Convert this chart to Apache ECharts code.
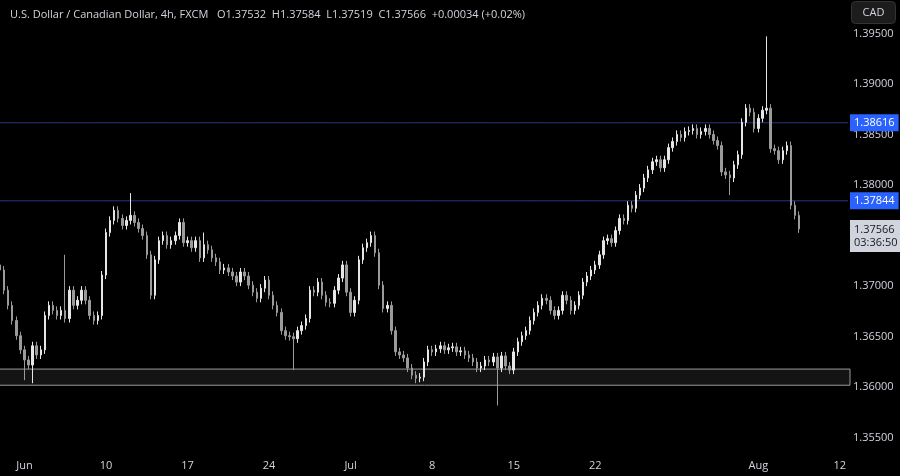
<!DOCTYPE html>
<html>
<head>
<meta charset="utf-8">
<script src="https://cdn.jsdelivr.net/npm/echarts@6/dist/echarts.min.js"></script>
<style>html,body{margin:0;background:#000}#chart{width:900px;height:476px}</style>
</head>
<body>
<div id="chart"></div>
<script>
// closes per 4h-ish bar, one row per week (20 bars each)
var preJun  = [1.3716,1.3696,1.3681,1.3666,1.3651,1.3637];
var wJun3   = [1.3627,1.3622,1.3641,1.3632,1.3637,1.3671,1.3681,1.3676,1.3671,1.3676,1.3668,1.3696,1.3681,1.3686,1.3696,1.3686,1.3671,1.3666,1.3671,1.3711];
var wJun10  = [1.3753,1.3765,1.3775,1.3767,1.3760,1.3765,1.3770,1.3763,1.3757,1.3750,1.3731,1.3691,1.3726,1.3745,1.3750,1.3741,1.3745,1.3750,1.3763,1.3743];
var wJun17  = [1.3745,1.3738,1.3745,1.3728,1.3741,1.3736,1.3728,1.3724,1.3716,1.3718,1.3714,1.3710,1.3704,1.3714,1.3710,1.3701,1.3694,1.3688,1.3698,1.3706];
var wJun24  = [1.3691,1.3681,1.3674,1.3656,1.3651,1.3650,1.3648,1.3656,1.3661,1.3668,1.3696,1.3694,1.3704,1.3691,1.3684,1.3683,1.3696,1.3708,1.3721,1.3694];
var wJul1   = [1.3674,1.3686,1.3726,1.3738,1.3743,1.3750,1.3733,1.3701,1.3678,1.3681,1.3656,1.3635,1.3632,1.3629,1.3619,1.3612,1.3609,1.3610,1.3625,1.3637];
var wJul8   = [1.3635,1.3638,1.3641,1.3637,1.3639,1.3640,1.3635,1.3636,1.3632,1.3629,1.3625,1.3619,1.3621,1.3627,1.3625,1.3630,1.3619,1.3631,1.3621,1.3617];
var wJul15  = [1.3635,1.3645,1.3651,1.3656,1.3666,1.3674,1.3681,1.3688,1.3686,1.3676,1.3671,1.3676,1.3691,1.3686,1.3676,1.3681,1.3691,1.3704,1.3710,1.3716];
var wJul22  = [1.3721,1.3731,1.3745,1.3747,1.3743,1.3755,1.3767,1.3765,1.3780,1.3777,1.3790,1.3797,1.3807,1.3815,1.3823,1.3825,1.3817,1.3825,1.3837,1.3843];
var wJul29  = [1.3850,1.3847,1.3853,1.3854,1.3856,1.3850,1.3853,1.3856,1.3850,1.3844,1.3839,1.3813,1.3810,1.3807,1.3820,1.3830,1.3862,1.3876,1.3872,1.3856];
var wAug5   = [1.3866,1.3874,1.3876,1.3836,1.3834,1.3825,1.3834,1.3839,1.3780,1.3770,1.37566];

// long wicks: bar index -> [high, low] (null = normal)
var spikes = {
  6:[null,1.3607], 8:[null,1.3604], 16:[1.3731,null], 32:[1.3792,null],
  50:[1.3753,null], 72:[null,1.3617], 102:[null,1.3604], 122:[null,1.3582],
  179:[null,1.3790], 188:[1.3947,null]
};

var tickLabels = ['Jun','10','17','24','Jul','8','15','22','','Aug','12'];
var priceTicks = [1.355,1.36,1.365,1.37,1.375,1.38,1.385,1.39,1.395];
var resistance = 1.38616, support = 1.37844, lastPrice = 1.37566;
var zone = [1.3602, 1.3618];

var closes = [].concat(preJun,wJun3,wJun10,wJun17,wJun24,wJul1,wJul8,wJul15,wJul22,wJul29,wAug5);
var totalBars = 209;
var cats = [], ohlc = [];
for (var i = 0; i < totalBars; i++) {
  cats.push(i);
  if (i < closes.length) {
    var c = closes[i];
    var o = i > 0 ? closes[i-1] : c + 0.0005;
    var hi = Math.max(o,c) + 0.0004, lo = Math.min(o,c) - 0.0004;
    if (spikes[i]) {
      if (spikes[i][0]) hi = spikes[i][0];
      if (spikes[i][1]) lo = spikes[i][1];
    }
    ohlc.push([o, c, lo, hi]);
  } else {
    ohlc.push('-');
  }
}

// flat level line across the whole chart
function levelSeries(v) {
  return {
    type: 'line', data: cats.map(function () { return v; }), symbol: 'none', silent: true,
    lineStyle: {color: '#2d3585', width: 1}, z: 1
  };
}

var blueTag = {backgroundColor: '#2962ff', color: '#fff', padding: [3,4], fontSize: 11, fontFamily: 'Open Sans', position: 'end', distance: 2};
var clear = {color: 'rgba(0,0,0,0)', width: 0};

var chart = echarts.init(document.getElementById('chart'));
chart.setOption({
  backgroundColor: '#000',
  animation: false,
  title: {
    text: 'U.S. Dollar / Canadian Dollar, 4h, FXCM   O1.37532  H1.37584  L1.37519  C1.37566  +0.00034 (+0.02%)',
    left: 5, top: 4,
    textStyle: {color: '#d1d4dc', fontSize: 11, fontWeight: 'normal', fontFamily: 'Open Sans'}
  },
  graphic: [{
    type: 'group', right: 4, top: 1,
    children: [
      {type: 'rect', shape: {width: 44, height: 22, r: 4}, style: {fill: '#1c1c1c', stroke: '#333'}},
      {type: 'text', style: {text: 'CAD', x: 22, y: 11, align: 'center', verticalAlign: 'middle', fill: '#d1d4dc', fontSize: 11, fontFamily: 'Open Sans'}}
    ]
  }],
  grid: {left: 0, right: 52, top: 0, bottom: 22},
  xAxis: {
    type: 'category', data: cats, boundaryGap: false,
    axisLine: {show: false}, axisTick: {show: false}, splitLine: {show: false},
    axisLabel: {
      color: '#d1d4dc', fontSize: 11, fontFamily: 'Open Sans', margin: 6,
      interval: function (idx) { return idx >= 6 && (idx - 6) % 20 === 0; },
      formatter: function (v, idx) { return tickLabels[(idx - 6) / 20] || ''; }
    }
  },
  yAxis: {
    type: 'value', position: 'right', min: 1.3534, max: 1.3983, scale: true,
    axisLine: {show: false}, axisTick: {show: false}, splitLine: {show: false},
    axisLabel: {
      customValues: priceTicks, color: '#d1d4dc', fontSize: 11, fontFamily: 'Open Sans', margin: 5,
      formatter: function (v) { return v.toFixed(5); }
    }
  },
  series: [levelSeries(resistance), levelSeries(support), {
    type: 'candlestick', data: ohlc, barWidth: 2, z: 3,
    itemStyle: {color: '#e6e6e6', color0: '#9a9a9a', borderColor: '#e6e6e6', borderColor0: '#9a9a9a', borderWidth: 1},
    markArea: {
      silent: true,
      itemStyle: {color: '#141414', borderColor: '#9a9a9a', borderWidth: 1},
      data: [[{yAxis: zone[0], x: -2}, {yAxis: zone[1], x: 850}]]
    },
    markLine: {
      silent: true, symbol: 'none', precision: 5, lineStyle: clear,
      data: [
        {yAxis: resistance, lineStyle: clear, label: Object.assign({formatter: resistance.toFixed(5)}, blueTag)},
        {yAxis: support, lineStyle: clear, label: Object.assign({formatter: support.toFixed(5)}, blueTag)},
        {yAxis: lastPrice, lineStyle: clear,
         label: {formatter: lastPrice.toFixed(5) + '\n03:36:50', backgroundColor: '#d1d4dc', color: '#131722',
                 padding: [3,4], fontSize: 11, fontFamily: 'Open Sans', lineHeight: 13, position: 'end', distance: 2, offset: [0, 7]}}
      ]
    }
  }]
});
</script>
</body>
</html>
